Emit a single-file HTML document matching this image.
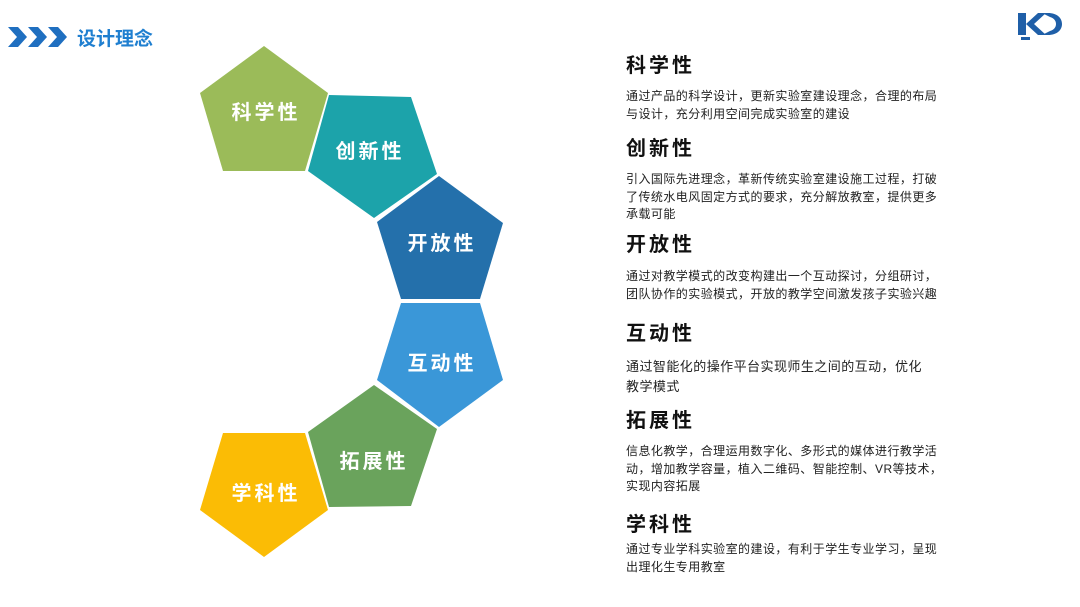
<!DOCTYPE html>
<html><head><meta charset="utf-8"><style>
body{margin:0;width:1080px;height:607px;background:#fff;position:relative;overflow:hidden;font-family:"Liberation Sans","Noto Sans CJK SC",sans-serif}
.t{position:absolute;left:626px;font-size:20px;font-weight:bold;letter-spacing:3px;color:#111;line-height:24px}
.b{position:absolute;left:626px;font-size:12px;color:#222;line-height:17.5px;width:340px;letter-spacing:0.45px;white-space:nowrap}
svg{position:absolute;left:0;top:0}
</style></head><body>
<svg width="1080" height="607">
<g fill="#1f6fc0">
<polygon points="8,27 18,27 27,37 18,47 8,47 17,37"/>
<polygon points="28,27 38,27 47,37 38,47 28,47 37,37"/>
<polygon points="48,27 58,27 67,37 58,47 48,47 57,37"/>
</g>
<text x="77" y="45" font-size="19" font-weight="bold" fill="#1f7fd0" font-family="Liberation Sans,Noto Sans CJK SC,sans-serif">设计理念</text>
<g fill="#1f5fa8">
<rect x="1018" y="13" width="8" height="22"/>
<polygon points="1026,24 1038,13 1046,13 1034,24 1046,35 1038,35"/>
<path d="M1042,13h6c9,0 14,5 14,11s-5,11 -14,11h-6l8,-4c4,-1 6,-4 6,-7s-2,-6 -6,-7z"/>
<rect x="1021" y="37" width="9" height="3"/>
</g>
<polygon points="264,46 328,93 305,171 223,171 200,93" fill="#9bbb59"/>
<polygon points="329,95 411,97 437,174 374,218 308,171" fill="#1ca3aa"/>
<polygon points="439,176 503,223 480,299 401,299 377,222" fill="#2470ab"/>
<polygon points="401,303 480,303 503,380 439,427 377,380" fill="#3a97d8"/>
<polygon points="374,385 437,429 411,506 329,507 308,432" fill="#6aa35c"/>
<polygon points="223,433 305,433 328,510 264,557 200,510" fill="#fbbc05"/>
<g fill="#fff" font-size="20" font-weight="bold" text-anchor="middle" letter-spacing="3" font-family="Liberation Sans,Noto Sans CJK SC,sans-serif">
<text x="266" y="119">科学性</text>
<text x="370" y="158">创新性</text>
<text x="442" y="250">开放性</text>
<text x="442" y="370">互动性</text>
<text x="374" y="468">拓展性</text>
<text x="266" y="500">学科性</text>
</g>
</svg>
<div class="t" style="top:54px">科学性</div>
<div class="b" style="top:88px">通过产品的科学设计，更新实验室建设理念，合理的布局<br>与设计，充分利用空间完成实验室的建设</div>
<div class="t" style="top:137px">创新性</div>
<div class="b" style="top:171px">引入国际先进理念，革新传统实验室建设施工过程，打破<br>了传统水电风固定方式的要求，充分解放教室，提供更多<br>承载可能</div>
<div class="t" style="top:233px">开放性</div>
<div class="b" style="top:268px">通过对教学模式的改变构建出一个互动探讨，分组研讨，<br>团队协作的实验模式，开放的教学空间激发孩子实验兴趣</div>
<div class="t" style="top:322px">互动性</div>
<div class="b" style="top:357px;font-size:13px;line-height:20px">通过智能化的操作平台实现师生之间的互动，优化<br>教学模式</div>
<div class="t" style="top:409px">拓展性</div>
<div class="b" style="top:443px">信息化教学，合理运用数字化、多形式的媒体进行教学活<br>动，增加教学容量，植入二维码、智能控制、VR等技术，<br>实现内容拓展</div>
<div class="t" style="top:513px">学科性</div>
<div class="b" style="top:541px">通过专业学科实验室的建设，有利于学生专业学习，呈现<br>出理化生专用教室</div>
</body></html>
